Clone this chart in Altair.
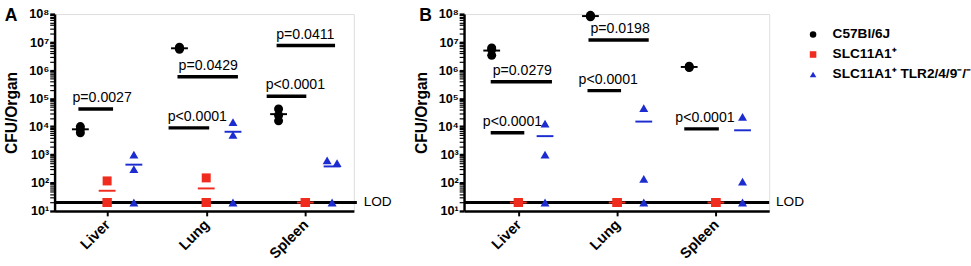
import altair as alt
import pandas as pd

# ---------------- data ----------------
organs = ["Liver", "Lung", "Spleen"]
groups = ["C57Bl/6J", "SLC11A1⁺", "SLC11A1⁺ TLR2/4/9⁻/⁻"]
colors = ["#000000", "#f02c1e", "#1c2cd0"]
shapes = ["circle", "square", "triangle-up"]
group_offset = [-0.27, 0.0, 0.27]
LOD = 20

# Panel A: CFU per organ, 3 mice per group, one list per organ
a_black = [[1.0e4, 8.0e3, 6.0e3], [6.6e6, 6.0e6, 5.6e6], [4.2e4, 2.5e4, 1.6e4]]
a_red = [[117, 20, 20], [150, 20, 20], [20, 20, 20]]
a_blue = [[1000, 310, 20], [14500, 5100, 20], [630, 500, 20]]
a_blue_jitter = [[0, 0, 0], [0, 0, 0], [-0.05, 0.05, 0]]

# Panel B
b_black = [[6.2e6, 5.5e6, 3.4e6], [9.0e7, 8.4e7, 8.0e7], [1.4e6, 1.3e6, 1.25e6]]
b_red = [[20, 20, 20], [20, 20, 20], [20, 20, 20]]
b_blue = [[12700, 1000, 20], [45000, 138, 20], [22000, 110, 20]]
b_blue_jitter = [[0, 0, 0], [0, 0, 0], [0, 0, 0]]

# significance bars (x in category units, y in CFU)
a_sig_x1 = [-0.29, 0.62, 0.71, 1.61, 1.71]
a_sig_x2 = [0.06, 1.03, 1.32, 2.01, 2.30]
a_sig_y = [4.2e4, 9.0e3, 5.9e5, 1.2e5, 7.6e6]
a_sig_tx = [-0.05, 0.91, 1.02, 1.90, 2.00]
a_sig_text = ["p=0.0027", "p<0.0001", "p=0.0429", "p<0.0001", "p=0.0411"]

b_sig_x1 = [-0.28, -0.28, 0.71, 0.70, 1.68]
b_sig_x2 = [0.34, 0.06, 1.32, 1.04, 2.03]
b_sig_y = [3.9e5, 6.0e3, 1.2e7, 1.9e5, 8.3e3]
b_sig_tx = [0.04, -0.06, 1.03, 0.91, 1.89]
b_sig_text = ["p=0.0279", "p<0.0001", "p=0.0198", "p<0.0001", "p<0.0001"]

# ---------------- helpers ----------------
FONT = "Liberation Sans"
majors = [10.0 ** d for d in range(1, 9)]
minors = [k * 10.0 ** d for d in range(1, 8) for k in range(2, 10)]
tick_vals = sorted(majors + minors)
is_major = "abs(log(datum.value)/LN10 - round(log(datum.value)/LN10)) < 0.001"
label_expr = (is_major + " ? '10' + ['⁰','¹','²','³','⁴','⁵','⁶','⁷','⁸','⁹']"
              "[round(log(datum.value)/LN10)] : ''")

color_scale = alt.Scale(domain=groups, range=colors)
shape_scale = alt.Scale(domain=groups, range=shapes)

legend = alt.Legend(orient="none", legendX=771, legendY=14, title=None,
                    labelFont=FONT, labelFontSize=14, labelFontWeight="bold",
                    labelColor="black", symbolSize=45, rowPadding=6.5,
                    labelOffset=13, symbolStrokeWidth=0, labelLimit=400)


def points_df(black, red, blue, blue_jit):
    rows = []
    for gi, vals in enumerate([black, red, blue]):
        for oi, organ in enumerate(organs):
            for mi, v in enumerate(vals[oi]):
                j = blue_jit[oi][mi] if gi == 2 else 0
                rows.append({"organ": organ, "group": groups[gi], "gidx": gi,
                             "base": oi + group_offset[gi], "x": oi + group_offset[gi] + j,
                             "value": v})
    return pd.DataFrame(rows)


def panel(letter, letter_dx, black, red, blue, blue_jit, sx1, sx2, sy, stx, stext,
          xdomain, width, lod_end):
    xs = alt.Scale(domain=xdomain, nice=False, zero=False)
    ys = alt.Scale(type="log", domain=[10, 1e8], nice=False)
    xaxis = alt.Axis(values=[0, 1, 2], title=None, grid=False,
                     labelExpr="['Liver','Lung','Spleen'][round(datum.value)]",
                     labelAngle=-45, labelAlign="right", labelBaseline="middle",
                     labelFont=FONT, labelFontSize=15, labelFontWeight="bold",
                     labelColor="black", labelPadding=6, tickSize=5, tickWidth=2,
                     tickColor="black", domainColor="black", domainWidth=2.5)
    yaxis = alt.Axis(values=tick_vals, title="CFU/Organ", grid=False,
                     labelExpr=label_expr, labelOverlap=False, labelFlush=False,
                     labelFont=FONT, labelFontSize=13, labelFontWeight="bold",
                     labelColor="black", labelPadding=1, tickSize=5,
                     tickWidth={"condition": {"test": is_major, "value": 2.4}, "value": 1.2},
                     tickColor="black", domainColor="black", domainWidth=2.5,
                     titleFont=FONT, titleFontSize=16, titleFontWeight="bold",
                     titleColor="black", titlePadding=9)
    X = lambda f: alt.X(f, type="quantitative", scale=xs, axis=xaxis)
    Y = lambda f: alt.Y(f, type="quantitative", scale=ys, axis=yaxis)

    pts = points_df(black, red, blue, blue_jit)

    lod_df = pd.DataFrame({"x1": [xdomain[0]], "x2": [lod_end], "y": [LOD], "t": ["LOD"]})
    lod_rule = alt.Chart(lod_df).mark_rule(color="black", strokeWidth=3).encode(
        x=X("x1"), x2="x2", y=Y("y"))
    lod_text = alt.Chart(lod_df).mark_text(
        font=FONT, fontSize=14, align="left", baseline="middle", dx=7, color="black"
    ).encode(x=X("x2"), y=Y("y"), text="t")

    sig_df = pd.DataFrame({"x1": sx1, "x2": sx2, "y": sy, "tx": stx, "t": stext})
    sig_rule = alt.Chart(sig_df).mark_rule(color="black", strokeWidth=3.5).encode(
        x=X("x1"), x2="x2", y=Y("y"))
    sig_text = alt.Chart(sig_df).mark_text(
        font=FONT, fontSize=14.5, align="center", baseline="alphabetic", dy=-7, color="black"
    ).encode(x=X("tx"), y=Y("y"), text="t")

    mean_rule = alt.Chart(pts).transform_aggregate(
        mean="mean(value)", groupby=["organ", "group", "gidx", "base"]
    ).transform_calculate(
        xa="datum.base - 0.085", xb="datum.base + 0.085"
    ).mark_rule(strokeWidth=2).encode(
        x=X("xa"), x2="xb", y=Y("mean"),
        color=alt.Color("group:N", scale=color_scale, legend=legend))

    dots = alt.Chart(pts).mark_point(filled=True, opacity=1, size=85).encode(
        x=X("x"), y=Y("value"),
        color=alt.Color("group:N", scale=color_scale, legend=legend),
        shape=alt.Shape("group:N", scale=shape_scale, legend=legend))

    letter_df = pd.DataFrame({"t": [letter]})
    letter_mark = alt.Chart(letter_df).mark_text(
        font=FONT, fontSize=18, fontWeight="bold", align="left", baseline="alphabetic",
        color="black"
    ).encode(x=alt.value(letter_dx), y=alt.value(7), text="t")

    return alt.layer(lod_rule, lod_text, sig_rule, sig_text, mean_rule, dots,
                     letter_mark).properties(width=width, height=202)


pa = panel("A", -51, a_black, a_red, a_blue, a_blue_jitter, a_sig_x1, a_sig_x2, a_sig_y,
           a_sig_tx, a_sig_text, [-0.53, 2.49], 307, 2.52)
pb = panel("B", -46, b_black, b_red, b_blue, b_blue_jitter, b_sig_x1, b_sig_x2, b_sig_y,
           b_sig_tx, b_sig_text, [-0.55, 2.54], 313, 2.54)

chart = alt.hconcat(pa, pb, spacing=20).properties(
    padding={"left": 3, "top": 3, "right": 0, "bottom": 0}
).configure_view(stroke=None).configure(font=FONT)

chart.save("out.html", embed_options={"renderer": "svg", "actions": False})
